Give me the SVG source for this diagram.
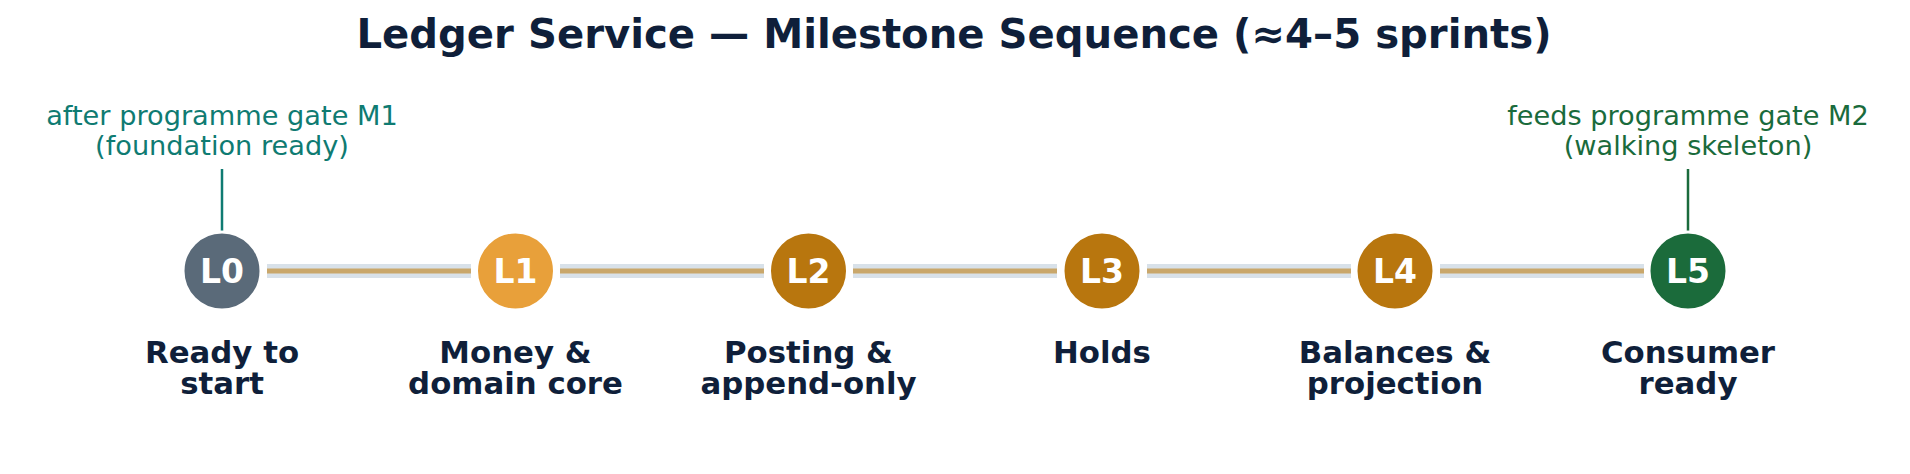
<svg xmlns="http://www.w3.org/2000/svg" width="1910" height="474" viewBox="0 0 1910 474">
  <style>
    .title { font-family: "DejaVu Sans", "Liberation Sans", sans-serif; font-weight: bold; font-size: 40.2px; fill: #0f1f3a; }
    .lbl { font-family: "DejaVu Sans", "Liberation Sans", sans-serif; font-weight: bold; font-size: 30.8px; fill: #0f1f3a; text-anchor: middle; }
    .code { font-family: "DejaVu Sans", "Liberation Sans", sans-serif; font-weight: bold; font-size: 33px; fill: #ffffff; text-anchor: middle; }
    .ann { font-family: "DejaVu Sans", "Liberation Sans", sans-serif; font-size: 27.2px; text-anchor: middle; }
    .band { stroke: #d8e1e9; stroke-width: 14; }
    .core { stroke: #c9a76b; stroke-width: 5; }
    .dot { stroke: #ffffff; stroke-width: 3; }
  </style>
  <rect width="1910" height="474" fill="#ffffff"/>
  <text class="title" x="954" y="48" text-anchor="middle">Ledger Service — Milestone Sequence (≈4–5 sprints)</text>

  <g id="connectors">
    <line class="band" x1="267" y1="271" x2="471" y2="271"/>
    <line class="core" x1="267" y1="271" x2="471" y2="271"/>
    <line class="band" x1="560" y1="271" x2="764" y2="271"/>
    <line class="core" x1="560" y1="271" x2="764" y2="271"/>
    <line class="band" x1="853" y1="271" x2="1057" y2="271"/>
    <line class="core" x1="853" y1="271" x2="1057" y2="271"/>
    <line class="band" x1="1147" y1="271" x2="1351" y2="271"/>
    <line class="core" x1="1147" y1="271" x2="1351" y2="271"/>
    <line class="band" x1="1440" y1="271" x2="1644" y2="271"/>
    <line class="core" x1="1440" y1="271" x2="1644" y2="271"/>
  </g>

  <g id="gate-m1">
    <text class="ann" fill="#0f7b72"><tspan x="222" y="125">after programme gate M1</tspan><tspan x="222" y="155">(foundation ready)</tspan></text>
    <line x1="222" y1="169" x2="222" y2="233" stroke="#0f7b72" stroke-width="2.5"/>
  </g>
  <g id="gate-m2">
    <text class="ann" fill="#1a6b3c"><tspan x="1688" y="125">feeds programme gate M2</tspan><tspan x="1688" y="155">(walking skeleton)</tspan></text>
    <line x1="1688" y1="169" x2="1688" y2="233" stroke="#1a6b3c" stroke-width="2.5"/>
  </g>

  <g id="L0">
    <circle class="dot" cx="222" cy="271" r="39" fill="#5a6a79"/>
    <text class="code" x="222" y="283">L0</text>
    <text class="lbl"><tspan x="222" y="363">Ready to</tspan><tspan x="222" y="394">start</tspan></text>
  </g>
  <g id="L1">
    <circle class="dot" cx="515.5" cy="271" r="39" fill="#e8a03a"/>
    <text class="code" x="515.5" y="283">L1</text>
    <text class="lbl"><tspan x="515.5" y="363">Money &amp;</tspan><tspan x="515.5" y="394">domain core</tspan></text>
  </g>
  <g id="L2">
    <circle class="dot" cx="808.5" cy="271" r="39" fill="#b8760e"/>
    <text class="code" x="808.5" y="283">L2</text>
    <text class="lbl"><tspan x="808.5" y="363">Posting &amp;</tspan><tspan x="808.5" y="394">append-only</tspan></text>
  </g>
  <g id="L3">
    <circle class="dot" cx="1102" cy="271" r="39" fill="#b8760e"/>
    <text class="code" x="1102" y="283">L3</text>
    <text class="lbl" x="1102" y="363">Holds</text>
  </g>
  <g id="L4">
    <circle class="dot" cx="1395" cy="271" r="39" fill="#b8760e"/>
    <text class="code" x="1395" y="283">L4</text>
    <text class="lbl"><tspan x="1395" y="363">Balances &amp;</tspan><tspan x="1395" y="394">projection</tspan></text>
  </g>
  <g id="L5">
    <circle class="dot" cx="1688" cy="271" r="39" fill="#1b6b3b"/>
    <text class="code" x="1688" y="283">L5</text>
    <text class="lbl"><tspan x="1688" y="363">Consumer</tspan><tspan x="1688" y="394">ready</tspan></text>
  </g>
</svg>
